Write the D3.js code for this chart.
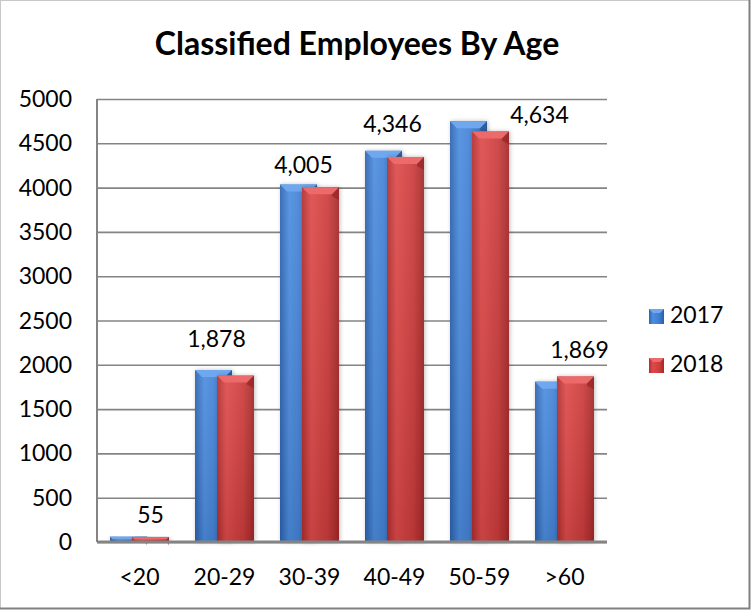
<!DOCTYPE html>
<html>
<head>
<meta charset="utf-8">
<script src="https://cdn.jsdelivr.net/npm/d3@7"></script>
<style>
  body { margin: 0; background: #fff; }
  svg text { font-family: Lato, "Open Sans", sans-serif; fill: #000; }
</style>
</head>
<body>
<div class="container"></div>
<script>
const TITLE = "Classified Employees By Age";
const categories = ["<20", "20-29", "30-39", "40-49", "50-59", ">60"];
const seriesNames = ["2017", "2018"];
const values2017 = [60, 1940, 4035, 4415, 4750, 1810];
const values2018 = [55, 1878, 4005, 4346, 4634, 1869];
const yTicks = [0, 500, 1000, 1500, 2000, 2500, 3000, 3500, 4000, 4500, 5000];
// manual nudges of the data labels (relative to the 2018 bar)
const labelDx = [0, -19, -17, -13, 49, 4];
const labelDy = [14, 29, 14, 25, 8, 18];

const WIDTH = 751, HEIGHT = 610;
const PLOT = { left: 97, right: 607, top: 99, bottom: 542 };
const BAR_SHIFT = 22; // offset of second bar inside group (bars overlap)

const COLORS = {
  "2017": { stops: ["#2c63b0", "#4d8ddf", "#3d7bd0", "#2a5ea8"], bevel: "#6fa8ef", dark: "#23528f" },
  "2018": { stops: ["#b02e2e", "#de4a4a", "#cc3c3c", "#a42828"], bevel: "#ec6a6a", dark: "#8e2222" },
};

const data = categories.map((c, i) => ({ cat: c, "2017": values2017[i], "2018": values2018[i] }));

const svg = d3.select(".container").append("svg")
  .attr("width", WIDTH).attr("height", HEIGHT)
  .attr("viewBox", [0, 0, WIDTH, HEIGHT]);

const defs = svg.append("defs");
seriesNames.forEach((s) => {
  const g = defs.append("linearGradient").attr("id", "grad" + s)
    .attr("x1", 0).attr("x2", 1).attr("y1", 0).attr("y2", 0);
  [0, 0.25, 0.7, 1].forEach((o, i) =>
    g.append("stop").attr("offset", o).attr("stop-color", COLORS[s].stops[i]));
});
const vshade = defs.append("linearGradient").attr("id", "vshade")
  .attr("x1", 0).attr("x2", 0).attr("y1", 0).attr("y2", 1);
vshade.append("stop").attr("offset", 0).attr("stop-color", "#fff").attr("stop-opacity", 0.08);
vshade.append("stop").attr("offset", 1).attr("stop-color", "#000").attr("stop-opacity", 0.1);
defs.append("filter").attr("id", "shadow")
  .attr("x", -0.3).attr("y", -0.1).attr("width", 1.6).attr("height", 1.2)
  .append("feDropShadow").attr("dx", 1).attr("dy", 0).attr("stdDeviation", 2)
  .attr("flood-color", "#000").attr("flood-opacity", 0.25);

// outer chart border
svg.append("rect").attr("x", 0.5).attr("y", 0.5).attr("width", WIDTH - 2).attr("height", HEIGHT - 2)
  .attr("fill", "#fff").attr("stroke", "#c8c8c8");
svg.append("path").attr("d", `M${WIDTH - 1.5},0V${HEIGHT - 1.5}H0`)
  .attr("fill", "none").attr("stroke", "#808080").attr("stroke-width", 2);

const x0 = d3.scaleBand().domain(categories).range([PLOT.left, PLOT.right]).paddingInner(0.306).paddingOuter(0.153);
const x1 = d3.scalePoint().domain(seriesNames).range([0, BAR_SHIFT]);
const barW = x0.bandwidth() - BAR_SHIFT;
const y = d3.scaleLinear().domain([0, 5000]).range([PLOT.bottom, PLOT.top]);

// gridlines
svg.append("g")
  .attr("transform", `translate(${PLOT.left},0)`)
  .call(d3.axisLeft(y).tickValues(yTicks).tickSize(-(PLOT.right - PLOT.left)).tickFormat(""))
  .call((g) => g.select(".domain").remove())
  .call((g) => g.selectAll("line").attr("stroke", "#848484").attr("stroke-width", 1.6));

// y tick labels
svg.append("g").selectAll("text").data(yTicks).join("text")
  .attr("x", 72).attr("y", (d) => y(d)).attr("dy", "0.35em")
  .attr("text-anchor", "end").attr("font-size", 23).text((d) => d);

// left axis line
svg.append("line").attr("x1", PLOT.left).attr("x2", PLOT.left)
  .attr("y1", PLOT.top).attr("y2", PLOT.bottom).attr("stroke", "#848484").attr("stroke-width", 2);

// bars
function barShape(g, s) {
  g.each(function (d) {
    const sel = d3.select(this);
    const bx = x0(d.cat) + x1(s);
    const top = y(d[s]);
    const h = PLOT.bottom - top;
    const b = Math.min(7, h / 2);
    sel.append("rect").attr("x", bx).attr("y", top).attr("width", barW).attr("height", h)
      .attr("fill", `url(#grad${s})`).attr("filter", "url(#shadow)");
    sel.append("rect").attr("x", bx).attr("y", top).attr("width", barW).attr("height", h)
      .attr("fill", "url(#vshade)");
    // bevelled top
    sel.append("path")
      .attr("d", `M${bx},${top}H${bx + barW}L${bx + barW - b},${top + b}H${bx + b}Z`)
      .attr("fill", COLORS[s].bevel);
    sel.append("path")
      .attr("d", `M${bx + barW},${top}L${bx + barW - b},${top + b}V${top + b + 2}L${bx + barW},${top + b + 6}Z`)
      .attr("fill", COLORS[s].dark).attr("opacity", 0.6);
  });
}

const groups = svg.append("g").selectAll("g").data(data).join("g");
seriesNames.forEach((s) => {
  groups.append("g").attr("class", "bar s" + s).call(barShape, s);
});

// baseline axis
svg.append("line").attr("x1", PLOT.left).attr("x2", PLOT.right)
  .attr("y1", PLOT.bottom).attr("y2", PLOT.bottom).attr("stroke", "#848484").attr("stroke-width", 3);

// x labels
svg.append("g").selectAll("text").data(categories).join("text")
  .attr("x", (d) => x0(d) + x0.bandwidth() / 2).attr("y", 585)
  .attr("text-anchor", "middle").attr("font-size", 23).text((d) => d);

// data labels on 2018
const fmt = d3.format(",");
svg.append("g").selectAll("text").data(data).join("text")
  .attr("x", (d, i) => x0(d.cat) + x1("2018") + barW / 2 + labelDx[i])
  .attr("y", (d, i) => y(d["2018"]) - labelDy[i])
  .attr("text-anchor", "middle").attr("font-size", 23).text((d) => fmt(d["2018"]));

// title
svg.append("text").attr("x", 357).attr("y", 55).attr("text-anchor", "middle")
  .attr("font-size", 32).attr("font-weight", "bold").text(TITLE);

// legend
const legend = svg.append("g").selectAll("g").data(seriesNames).join("g")
  .attr("transform", (d, i) => `translate(649,${309 + i * 49})`);
legend.append("rect").attr("width", 15).attr("height", 15).attr("fill", (d) => `url(#grad${d})`);
legend.append("path").attr("d", "M0,0H15L11,4H4Z").attr("fill", (d) => COLORS[d].bevel);
legend.append("text").attr("x", 21).attr("y", 14).attr("font-size", 23).text((d) => d);
</script>
</body>
</html>
